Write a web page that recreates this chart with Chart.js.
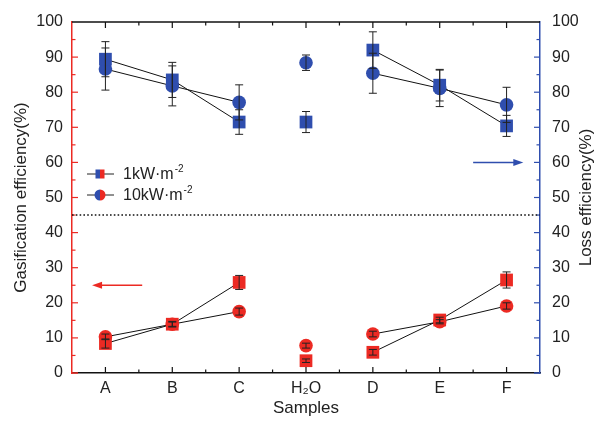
<!DOCTYPE html>
<html>
<head>
<meta charset="utf-8">
<script src="https://cdn.jsdelivr.net/npm/chart.js@4.4.1/dist/chart.umd.min.js"></script>
<style>
  html, body { margin: 0; padding: 0; background: #fff; }
  #wrap { width: 599px; height: 421px; }
</style>
</head>
<body>
<div id="wrap"><canvas id="c"></canvas></div>
<script>
// ========== DATA ==========
const categories = ['A', 'B', 'C', 'H\u2082O', 'D', 'E', 'F'];
const yTicks = [0, 10, 20, 30, 40, 50, 60, 70, 80, 90, 100];

// loss efficiency (right axis, blue)
const loss1kW = [89.4, 83.5, 71.5, 71.5, 92.0, 82.0, 70.4];
const loss1kWErr = [5.0, 5.0, 3.5, 3.0, 5.2, 4.5, 3.0];
const loss10kW = [86.6, 81.8, 77.1, 88.4, 85.4, 81.1, 76.4];
const loss10kWErr = [6.0, 5.7, 5.0, 2.2, 5.7, 5.2, 5.0];

// gasification efficiency (left axis, red)
const gas1kW = [8.4, 13.9, 25.8, 3.5, 5.9, 15.1, 26.5];
const gas1kWErr = [1.3, 0.8, 2.0, 0.5, 0.8, 0.8, 2.3];
const gas10kW = [10.3, 13.9, 17.5, 7.8, 11.1, 14.6, 19.1];
const gas10kWErr = [0.8, 0.6, 1.0, 0.7, 0.8, 0.6, 0.9];

const dividerValue = 45;

// ========== STYLE ==========
const BLUE = '#2f4eae';
const RED = '#ec2a23';
const FONT = '"Liberation Sans", Arial, sans-serif';

// no line into or out of the H2O point
const skipWater = {
  borderColor: ctx => (ctx.p0DataIndex === 3 || ctx.p1DataIndex === 3) ? 'rgba(0,0,0,0)' : undefined
};

function series(data, err, color, shape, axis) {
  return {
    data: data,
    err: err,
    yAxisID: axis,
    borderColor: '#111',
    borderWidth: 1,
    backgroundColor: color,
    pointBackgroundColor: color,
    pointBorderColor: color,
    pointBorderWidth: 0,
    pointStyle: shape,
    pointRadius: shape === 'rect' ? 9 : 6.8,
    pointHoverRadius: shape === 'rect' ? 9 : 6.8,
    segment: skipWater,
    tension: 0
  };
}

// ========== DRAWING HELPERS ==========
function legendMarker(ctx, x, y, shape) {
  ctx.save();
  ctx.strokeStyle = '#222';
  ctx.lineWidth = 1;
  ctx.beginPath();
  ctx.moveTo(x - 13, y); ctx.lineTo(x + 14, y);
  ctx.stroke();
  if (shape === 'rect') {
    ctx.fillStyle = BLUE; ctx.fillRect(x - 4.5, y - 4.5, 4.5, 9);
    ctx.fillStyle = RED; ctx.fillRect(x, y - 4.5, 4.5, 9);
  } else {
    ctx.fillStyle = BLUE;
    ctx.beginPath(); ctx.arc(x, y, 5.5, Math.PI / 2, Math.PI * 1.5); ctx.fill();
    ctx.fillStyle = RED;
    ctx.beginPath(); ctx.arc(x, y, 5.5, -Math.PI / 2, Math.PI / 2); ctx.fill();
  }
  ctx.restore();
}

function unitText(ctx, x, y, base) {
  ctx.save();
  ctx.fillStyle = '#222';
  ctx.textBaseline = 'middle';
  ctx.textAlign = 'left';
  ctx.font = '16px ' + FONT;
  ctx.fillText(base, x, y);
  const w = ctx.measureText(base).width;
  ctx.font = '10px ' + FONT;
  ctx.fillText('-2', x + w + 1, y - 6);
  ctx.restore();
}

function arrow(ctx, x0, x1, y, color) {
  ctx.save();
  ctx.strokeStyle = color; ctx.fillStyle = color; ctx.lineWidth = 1.5;
  const dir = Math.sign(x1 - x0);
  ctx.beginPath(); ctx.moveTo(x0, y); ctx.lineTo(x1 - dir * 8, y); ctx.stroke();
  ctx.beginPath();
  ctx.moveTo(x1, y); ctx.lineTo(x1 - dir * 10, y - 3.5); ctx.lineTo(x1 - dir * 10, y + 3.5);
  ctx.closePath(); ctx.fill();
  ctx.restore();
}

const decorations = {
  id: 'decorations',
  afterDatasetsDraw(chart) {
    const ctx = chart.ctx;
    const x = chart.scales.x, y = chart.scales.y;
    const a = chart.chartArea;

    // error bars
    ctx.save();
    ctx.strokeStyle = '#222';
    ctx.lineWidth = 1;
    chart.data.datasets.forEach(ds => {
      const sc = chart.scales[ds.yAxisID];
      ds.data.forEach((v, i) => {
        const px = x.getPixelForValue(i);
        const top = sc.getPixelForValue(v + ds.err[i]);
        const bot = sc.getPixelForValue(v - ds.err[i]);
        ctx.beginPath();
        ctx.moveTo(px, top); ctx.lineTo(px, bot);
        ctx.moveTo(px - 4, top); ctx.lineTo(px + 4, top);
        ctx.moveTo(px - 4, bot); ctx.lineTo(px + 4, bot);
        ctx.stroke();
      });
    });
    ctx.restore();

    // top frame line
    ctx.save();
    ctx.strokeStyle = '#111';
    ctx.lineWidth = 1.5;
    ctx.beginPath(); ctx.moveTo(a.left, a.top); ctx.lineTo(a.right, a.top); ctx.stroke();

    // inward ticks on the x axes (bottom and top)
    ctx.lineWidth = 1.2;
    for (let i = -0.5; i <= categories.length - 0.5; i += 0.5) {
      const px = x.getPixelForValue(i);
      if (px <= a.left + 1 || px >= a.right - 1) continue;
      const len = Number.isInteger(i) ? 6 : 3.5;
      ctx.beginPath();
      ctx.moveTo(px, a.bottom); ctx.lineTo(px, a.bottom - len);
      ctx.moveTo(px, a.top); ctx.lineTo(px, a.top + len);
      ctx.stroke();
    }

    // inward ticks on y axes
    for (let v = 0; v <= 100; v += 5) {
      const py = y.getPixelForValue(v);
      const len = v % 10 === 0 ? 6 : 3.5;
      if (v === 0 || v === 100) continue;
      ctx.strokeStyle = RED;
      ctx.beginPath(); ctx.moveTo(a.left, py); ctx.lineTo(a.left + len, py); ctx.stroke();
      ctx.strokeStyle = BLUE;
      ctx.beginPath(); ctx.moveTo(a.right, py); ctx.lineTo(a.right - len, py); ctx.stroke();
    }
    // little coloured feet at the corners
    ctx.lineWidth = 1.5;
    ctx.strokeStyle = RED;
    ctx.beginPath(); ctx.moveTo(a.left, a.bottom); ctx.lineTo(a.left + 6, a.bottom); ctx.stroke();
    ctx.strokeStyle = BLUE;
    ctx.beginPath(); ctx.moveTo(a.right, a.bottom); ctx.lineTo(a.right - 6, a.bottom); ctx.stroke();

    // dotted divider
    const dy = y.getPixelForValue(dividerValue);
    ctx.strokeStyle = '#111';
    ctx.lineWidth = 1.6;
    ctx.setLineDash([1.6, 2.2]);
    ctx.beginPath(); ctx.moveTo(a.left, dy); ctx.lineTo(a.right, dy); ctx.stroke();
    ctx.setLineDash([]);
    ctx.restore();

    // axis arrows
    arrow(ctx, x.getPixelForValue(0.55), x.getPixelForValue(-0.2), y.getPixelForValue(25), RED);
    arrow(ctx, x.getPixelForValue(5.5), x.getPixelForValue(6.25), y.getPixelForValue(60), BLUE);

    // legend
    legendMarker(ctx, 100, 174, 'rect');
    unitText(ctx, 123, 175, '1kW\u00b7m');
    legendMarker(ctx, 100, 195, 'circle');
    unitText(ctx, 123, 196, '10kW\u00b7m');

    // right axis title, reading bottom to top
    ctx.save();
    ctx.translate(586, (a.top + a.bottom) / 2);
    ctx.rotate(-Math.PI / 2);
    ctx.fillStyle = '#222';
    ctx.font = '17px ' + FONT;
    ctx.textAlign = 'center';
    ctx.textBaseline = 'middle';
    ctx.fillText('Loss efficiency(%)', 0, 0);
    ctx.restore();
  }
};

// ========== CHART ==========
new Chart(document.getElementById('c'), {
  type: 'line',
  data: {
    labels: categories,
    datasets: [
      series(loss1kW, loss1kWErr, BLUE, 'rect', 'y2'),
      series(loss10kW, loss10kWErr, BLUE, 'circle', 'y2'),
      series(gas1kW, gas1kWErr, RED, 'rect', 'y'),
      series(gas10kW, gas10kWErr, RED, 'circle', 'y')
    ]
  },
  options: {
    responsive: true,
    maintainAspectRatio: false,
    animation: false,
    devicePixelRatio: 1,
    layout: { padding: { top: 22 } },
    plugins: { legend: { display: false }, tooltip: { enabled: false } },
    scales: {
      x: {
        offset: true,
        grid: { display: false, drawTicks: false },
        border: { color: '#111', width: 1.5 },
        ticks: { color: '#222', padding: 6, font: { family: FONT, size: 16 } },
        title: { display: true, text: 'Samples', color: '#222', padding: 2, font: { family: FONT, size: 17 } },
        afterFit: s => { s.height = 48; }
      },
      y: {
        position: 'left',
        min: 0, max: 100,
        afterBuildTicks: s => { s.ticks = yTicks.map(v => ({ value: v })); },
        grid: { display: false, drawTicks: false },
        border: { color: RED, width: 1.5 },
        ticks: { color: '#222', padding: 9, font: { family: FONT, size: 16 } },
        title: { display: true, text: 'Gasification efficiency(%)', color: '#222', padding: 11, font: { family: FONT, size: 17 } },
        afterFit: s => { s.width = 72; }
      },
      y2: {
        position: 'right',
        min: 0, max: 100,
        afterBuildTicks: s => { s.ticks = yTicks.map(v => ({ value: v })); },
        grid: { display: false, drawTicks: false },
        border: { color: BLUE, width: 1.5 },
        ticks: { color: '#222', padding: 12, font: { family: FONT, size: 16 } },
        afterFit: s => { s.width = 59; }
      }
    }
  },
  plugins: [decorations]
});
</script>
</body>
</html>
